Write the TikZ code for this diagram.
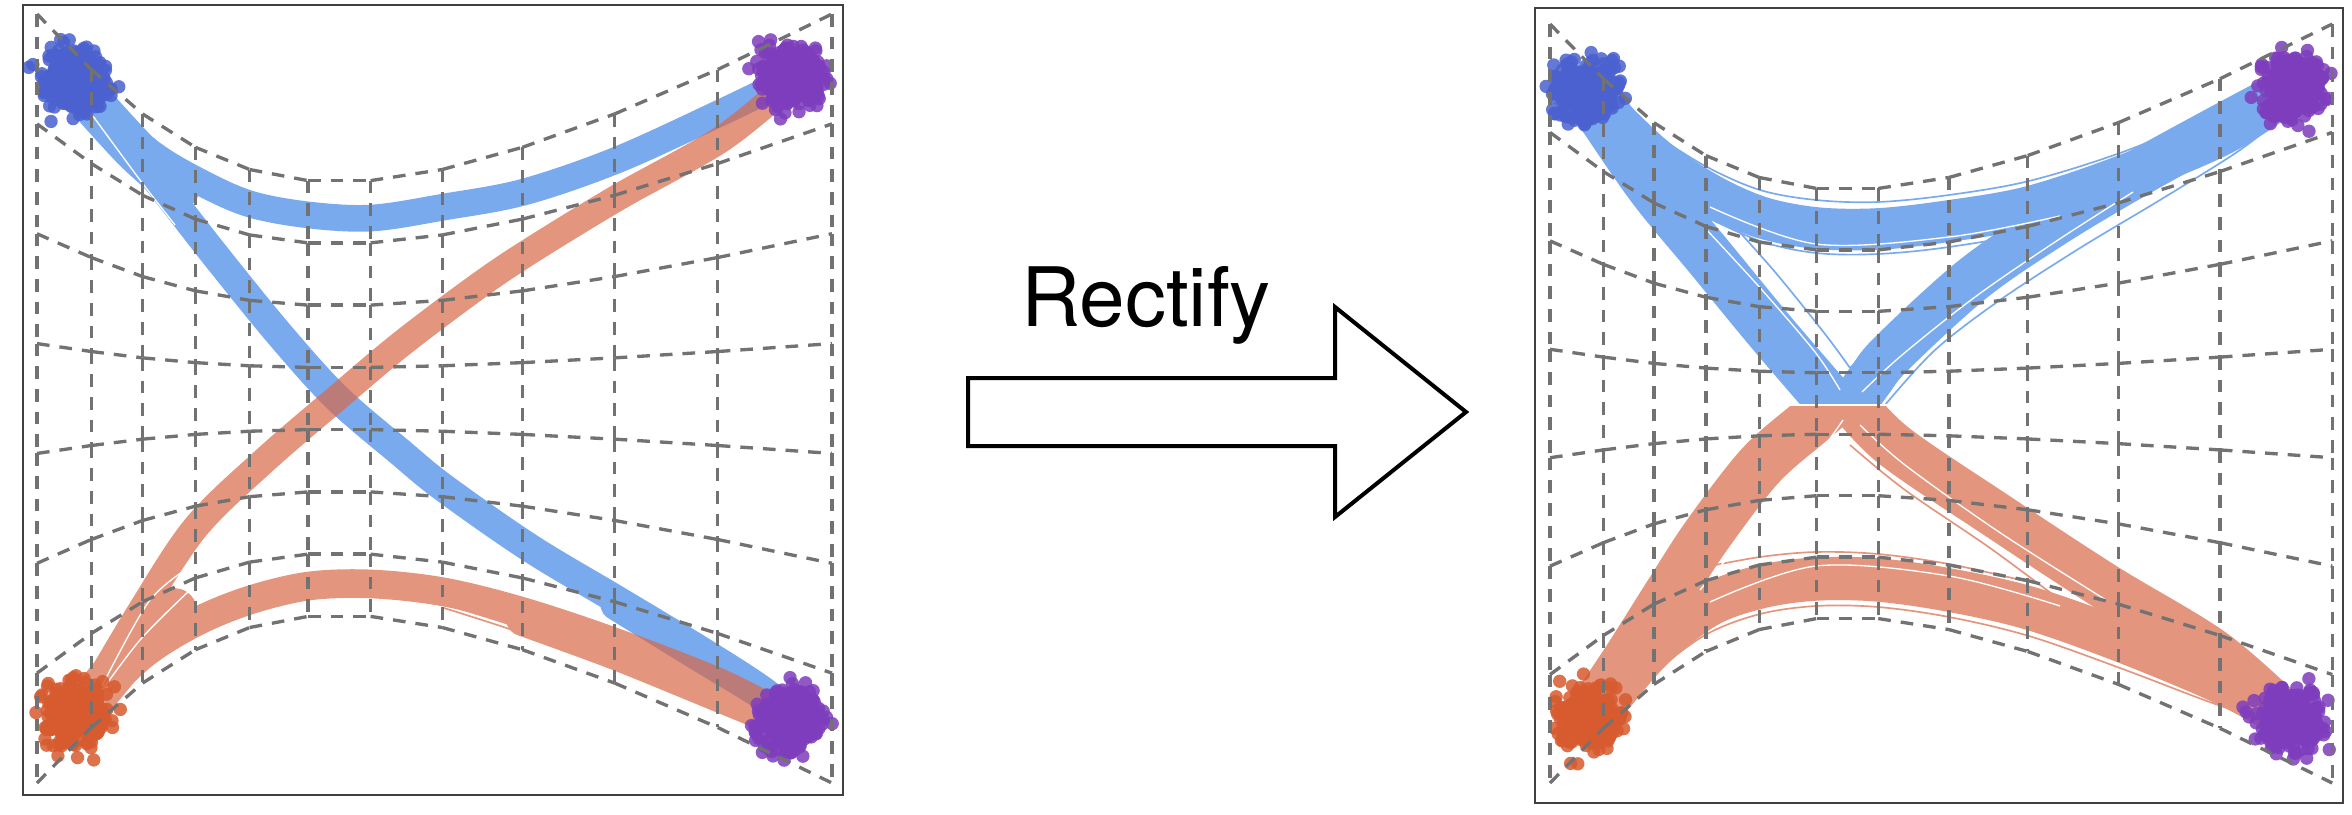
\documentclass[tikz,border=0pt]{standalone}
\usepackage{fontspec}
\setmainfont{TeX Gyre Heros}
\definecolor{gridgray}{HTML}{727272}
\definecolor{framegray}{HTML}{404040}
\definecolor{bandblue}{RGB}{66,134,231}
\definecolor{bandsalmon}{RGB}{216,105,72}
\definecolor{dotblue}{HTML}{4A61CF}
\definecolor{dotpurple}{HTML}{7E3DBD}
\definecolor{dotorange}{HTML}{D75B2F}
\tikzset{
  gridline/.style={gridgray, line width=1pt, dash pattern=on 3.8pt off 3pt},
  panelframe/.style={framegray, line width=0.6pt},
  bandB/.style={bandblue, line cap=round, line join=round},
  bandS/.style={bandsalmon, line cap=round, line join=round},
  fringeB/.style={bandblue, line width=0.5pt},
  fringeS/.style={bandsalmon, line width=0.5pt},
  streak/.style={white, line width=0.4pt},
  bigarrow/.style={black, line width=1.2pt, fill=white, line join=miter},
}
\newcommand\bandstroke[2]{\expandafter\bandstrokeaux\expandafter{#2}{#1}}
\newcommand\bandstrokeaux[2]{\draw[#2] plot[smooth,tension=0.55] coordinates {#1};}
\newcommand\blob[3]{%
  \foreach \i in {1,...,300}{%
    \pgfmathsetmacro\rr{15*sqrt(-2*ln(0.004+0.994*rnd))}%
    \pgfmathsetmacro\aa{360*rnd}%
    \fill[#3, opacity=0.85] ({#1+\rr*cos(\aa)},{#2+\rr*sin(\aa)}) circle[radius=2pt];
  }}
% left panel bands
\def\LBup{(88,98) (150,152) (200,182) (250,204) (309,215) (372,218) (444,207) (524,192) (617,160) (720,113) (788,80)}
\def\LBdg{(80,88) (150,172) (215,255) (280,335) (337,398) (400,452) (444,488) (530,548) (617,600) (700,650) (762,690) (792,718)}
\def\LSdg{(85,705) (140,612) (196,527) (265,460) (337,398) (400,345) (470,292) (524,255) (617,198) (720,140) (788,85)}
\def\LSlo{(88,708) (143,655) (196,622) (250,600) (309,586) (372,584) (444,592) (524,612) (617,643) (720,683) (788,718)}
% right panel bands
\def\RBup{(1595,100) (1653,156) (1707,193) (1760,217) (1816,228) (1878,229) (1949,221) (2029,207) (2120,177) (2221,135) (2288,92)}
\def\RBl{(1592,100) (1650,185) (1710,258) (1765,325) (1812,380) (1841,413)}
\def\RBr{(1847,413) (1870,380) (1893,352) (1973,279) (2053,224) (2133,176) (2213,132) (2288,92)}
\def\RSlo{(1595,712) (1653,648) (1707,606) (1760,587) (1816,579) (1878,580) (1949,590) (2029,608) (2120,640) (2221,682) (2288,718)}
\def\RSl{(1592,712) (1627,660) (1670,592) (1707,535) (1760,466) (1810,422) (1841,396)}
\def\RSr{(1847,396) (1893,445) (1999,517) (2106,587) (2213,652) (2288,718)}
\begin{document}
\begin{tikzpicture}[x=0.3pt,y=-0.3pt]
\useasboundingbox (0,0) rectangle (2352,814);
\fill[white] (0,0) rectangle (2352,814);
\pgfmathsetseed{4242}
% grid nodes
\foreach \u/\xu in {0/0,1/54.3,2/105.6,3/158.4,4/212.6,5/270.9,6/333.6,7/405.3,8/485.5,9/577.6,10/680.7,11/795}{
  \foreach \k in {0,...,7}{
    \pgfmathsetmacro\fu{1-((\u-5.5)/5.5)^2}
    \pgfmathsetmacro\yy{\k*109.86+168*(1-2*\k/7)*\fu}
    \coordinate (L-\u-\k) at ({37+\xu},{14+\yy});
    \coordinate (R-\u-\k) at ({1550+0.984*\xu},{24+0.987*\yy});
  }
}
% ---------- left panel bands ----------
\begin{scope}[transparency group, opacity=0.7]
  \bandstroke{bandB, line width=8pt}{\LBup}
  \bandstroke{bandB, line width=8.6pt}{\LBdg}
  \draw[bandB, line width=13pt] plot[smooth] coordinates {(82,92) (135,150) (178,188)};
  \draw[bandB, line width=10pt] plot[smooth] coordinates {(617,604) (700,655) (762,693) (792,718)};
  \draw[streak] plot[smooth] coordinates {(70,110) (130,190) (180,245)};
  \draw[streak] plot[smooth] coordinates {(90,112) (140,180) (175,225)};
\end{scope}
\begin{scope}[transparency group, opacity=0.7]
  \bandstroke{bandS, line width=8pt}{\LSdg}
  \bandstroke{bandS, line width=8.6pt}{\LSlo}
  \draw[bandS, line width=13pt] plot[smooth] coordinates {(85,708) (135,648) (175,610)};
  \draw[bandS, line width=11pt] plot[smooth] coordinates {(524,618) (617,652) (720,694) (788,722)};
  \draw[fringeS, line width=1.2pt] plot[smooth] coordinates {(444,603) (524,628) (617,664) (720,703) (788,724)};
  \draw[fringeS] plot[smooth] coordinates {(444,608) (524,634) (617,670) (720,710) (788,727)};
  \draw[streak] plot[smooth] coordinates {(100,690) (150,600) (200,560)};
  \draw[streak] plot[smooth] coordinates {(95,700) (140,640) (190,590)};
\end{scope}
% ---------- right panel bands ----------
\begin{scope}[transparency group, opacity=0.7]
  \clip (1535,0) rectangle (2343,403.5);
  \bandstroke{bandB, line width=12.5pt}{\RBup}
  \bandstroke{bandB, line width=15pt}{\RBl}
  \bandstroke{bandB, line width=14pt}{\RBr}
  \draw[bandB, line width=16pt] plot[smooth] coordinates {(1592,100) (1645,165) (1690,205)};
  \draw[fringeB] plot[smooth,tension=0.55] coordinates {(1595,100) (1653,134) (1707,167) (1760,190) (1816,200) (1878,202) (1949,195) (2029,181) (2120,153) (2221,113) (2288,92)};
  \draw[fringeB] plot[smooth,tension=0.55] coordinates {(1700,214) (1760,241) (1816,253) (1878,254) (1949,247) (2029,232) (2120,200) (2221,150) (2288,92)};
  \draw[fringeB] plot[smooth,tension=0.55] coordinates {(1592,100) (1636,200) (1695,276) (1755,350) (1795,395) (1808,410)};
  \draw[fringeB] plot[smooth,tension=0.55] coordinates {(1725,216) (1775,272) (1825,334) (1850,368)};
  \draw[fringeB] plot[smooth,tension=0.55] coordinates {(1850,368) (1905,318) (1985,262) (2065,214)};
  \draw[fringeB] plot[smooth,tension=0.55] coordinates {(1885,405) (1935,350) (2000,300) (2080,248) (2160,200) (2240,150) (2290,110)};
  \draw[streak] plot[smooth,tension=0.55] coordinates {(1705,228) (1762,290) (1815,352) (1840,390)};
  \draw[streak] plot[smooth,tension=0.55] coordinates {(1862,392) (1902,355) (1975,297) (2055,242) (2133,192)};
  \draw[streak] plot[smooth,tension=0.55] coordinates {(1710,207) (1816,244) (1949,237) (2060,216)};
\end{scope}
\begin{scope}[transparency group, opacity=0.7]
  \clip (1535,406) rectangle (2343,814);
  \bandstroke{bandS, line width=13pt}{\RSlo}
  \bandstroke{bandS, line width=15pt}{\RSl}
  \bandstroke{bandS, line width=14pt}{\RSr}
  \draw[bandS, line width=16pt] plot[smooth] coordinates {(1592,712) (1645,648) (1690,607)};
  \draw[fringeS] plot[smooth,tension=0.55] coordinates {(1595,712) (1653,672) (1707,634) (1760,614) (1816,606) (1878,607) (1949,617) (2029,636) (2120,668) (2221,706) (2288,725)};
  \draw[fringeS] plot[smooth,tension=0.55] coordinates {(1700,568) (1760,557) (1816,552) (1878,554) (1949,564) (2029,582)};
  \draw[fringeS] plot[smooth,tension=0.55] coordinates {(1582,712) (1636,625) (1695,537) (1755,458) (1808,410)};
  \draw[fringeS] plot[smooth,tension=0.55] coordinates {(1850,405) (1912,442) (2012,505) (2118,572) (2222,638) (2290,712)};
  \draw[fringeS] plot[smooth,tension=0.55] coordinates {(1850,445) (1905,490) (1990,548) (2060,600)};
  \draw[streak] plot[smooth,tension=0.55] coordinates {(1700,590) (1760,520) (1815,458) (1843,420)};
  \draw[streak] plot[smooth,tension=0.55] coordinates {(1860,425) (1905,465) (1999,532) (2106,600)};
  \draw[streak] plot[smooth,tension=0.55] coordinates {(1710,602) (1816,566) (1949,576) (2060,606)};
\end{scope}
% ---------- clusters ----------
\blob{76}{79}{dotblue}
\blob{790}{77}{dotpurple}
\blob{76}{716}{dotorange}
\blob{791}{721}{dotpurple}
\blob{1588}{89}{dotblue}
\blob{2292}{87}{dotpurple}
\blob{1588}{719}{dotorange}
\blob{2290}{720}{dotpurple}
% ---------- grids ----------
\foreach \u [evaluate=\u as \v using int(\u+1)] in {0,...,10}{
  \foreach \k in {0,...,7}{
    \draw[gridline] (L-\u-\k) -- (L-\v-\k);
    \draw[gridline] (R-\u-\k) -- (R-\v-\k);
  }
}
\foreach \u in {0,...,11}{
  \foreach \k [evaluate=\k as \kk using int(\k+1)] in {0,...,6}{
    \draw[gridline] (L-\u-\k) -- (L-\u-\kk);
    \draw[gridline] (R-\u-\k) -- (R-\u-\kk);
  }
}
% ---------- frames ----------
\draw[panelframe] (23,5) rectangle (843,795);
\draw[panelframe] (1535,8) rectangle (2343,803);
% ---------- arrow ----------
\draw[bigarrow] (968,378) -- (1335,378) -- (1335,307) -- (1466,412) -- (1335,517) -- (1335,446) -- (968,446) -- cycle;
\node[anchor=base, inner sep=0pt, font=\fontsize{24.6pt}{28pt}\selectfont] (rectify) at (1146,326) {Rectify};
\end{tikzpicture}
\end{document}
